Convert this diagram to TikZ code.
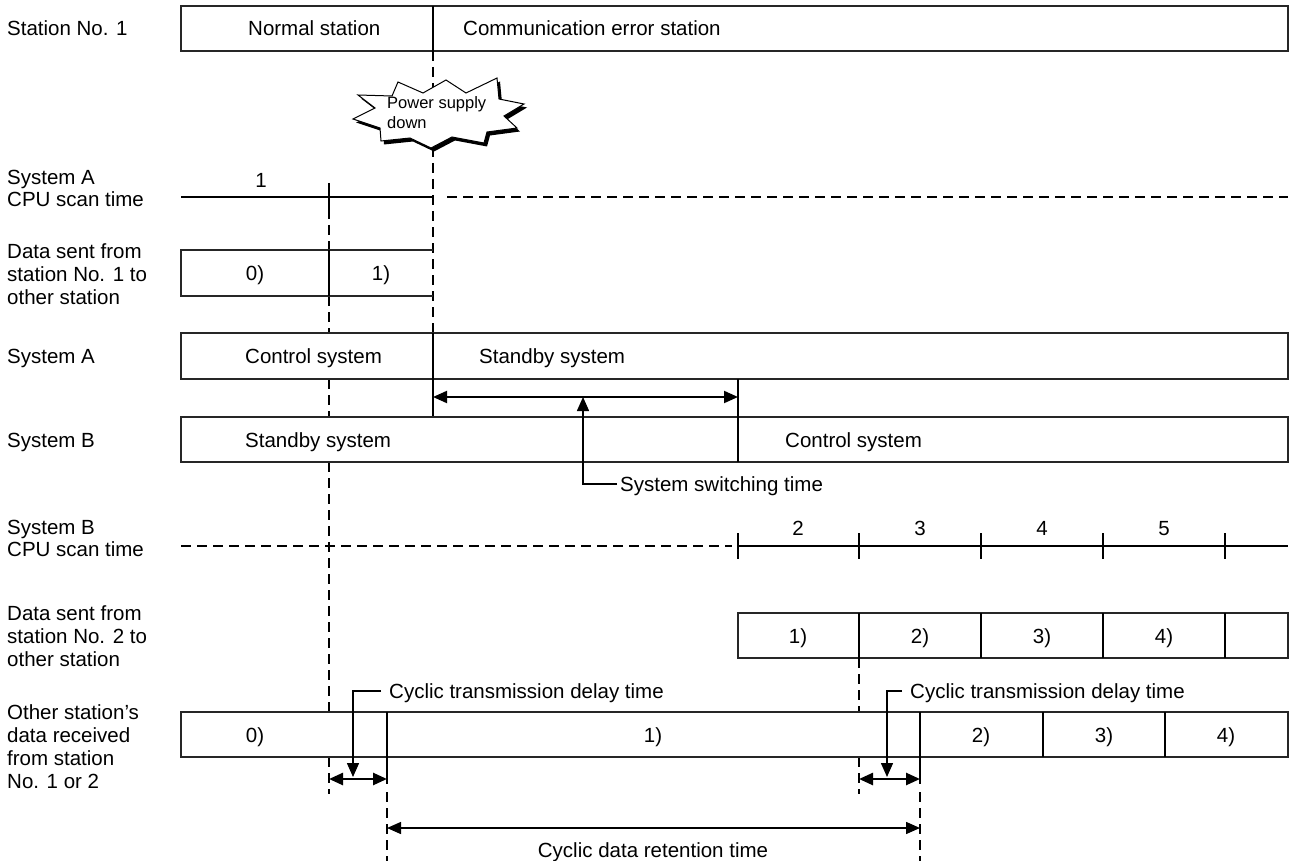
\documentclass[tikz,border=0pt]{standalone}
\usepackage{fontspec}
\setmainfont{Liberation Sans}
\usetikzlibrary{arrows.meta}
\begin{document}
\begin{tikzpicture}[x=1pt,y=-1pt,
  box/.style={line width=1.2pt, draw=black!85},
  divl/.style={line width=2pt},
  dsh/.style={line width=1.8pt, dash pattern=on 10pt off 6pt},
  txt/.style={inner sep=0pt, text height=15pt, text depth=0pt, font=\fontsize{20.5}{24}\selectfont},
  lbl/.style={txt, anchor=west},
  tri/.tip={Triangle[length=14pt,width=12pt]},
  dbl/.style={line width=2pt, tri-tri},
  lead/.style={line width=1.5pt, -tri}]
\useasboundingbox (0,0) rectangle (1290,861);

% ---------- left labels ----------
\node[lbl] (l1) at (7,28.5) {Station No. 1};
\node[lbl] (l2a) at (7,177) {System A};
\node[lbl] (l2b) at (7,199) {CPU scan time};
\node[lbl] (l3a) at (7,251) {Data sent from};
\node[lbl] (l3b) at (7,274) {station No. 1 to};
\node[lbl] (l3c) at (7,297) {other station};
\node[lbl] (l4) at (7,356) {System A};
\node[lbl] (l5) at (7,440) {System B};
\node[lbl] (l6a) at (7,527) {System B};
\node[lbl] (l6b) at (7,549) {CPU scan time};
\node[lbl] (l7a) at (7,613) {Data sent from};
\node[lbl] (l7b) at (7,636) {station No. 2 to};
\node[lbl] (l7c) at (7,659) {other station};
\node[lbl] (l8a) at (7,712) {Other station\char"27 s};
\node[lbl] (l8b) at (7,735) {data received};
\node[lbl] (l8c) at (7,758) {from station};
\node[lbl] (l8d) at (7,781) {No. 1 or 2};

% ---------- station No.1 ----------
\draw[box] (181,6) rectangle (1288,51);
\draw[divl] (433,6) -- (433,51);
\node[lbl] (ns) at (248,28.5) {Normal station};
\node[lbl] (ce) at (463,28.5) {Communication error station};

% dashed vertical at power-down
\draw[dsh] (433,51) -- (433,333);

% ---------- System A CPU scan ----------
\draw[line width=1.3pt] (181,197) -- (433,197);
\draw[divl] (329,183) -- (329,209);
\draw[dsh] (447,197) -- (1288,197);
\node[txt] (c1) at (261,180) {1};

% dashed vertical at x=329
\draw[dsh] (329,209) -- (329,250);
\draw[dsh] (329,296) -- (329,333);
\draw[dsh] (329,379) -- (329,417);
\draw[dsh] (329,462) -- (329,712);
\draw[dsh] (329,757) -- (329,794);

% ---------- data from station 1 ----------
\draw[box] (433,250) -- (181,250) -- (181,296) -- (433,296);
\draw[divl] (329,250) -- (329,296);
\node[txt] (d0) at (255,273) {0)};
\node[txt] (d1) at (381,273) {1)};

% ---------- System A ----------
\draw[box] (181,333) rectangle (1288,379);
\draw[divl] (433,333) -- (433,417);
\node[lbl] (ac) at (245,356) {Control system};
\node[lbl] (as) at (479,356) {Standby system};

% ---------- System B ----------
\draw[box] (181,417) rectangle (1288,462);
\draw[divl] (738,379) -- (738,462);
\node[lbl] (bs) at (245,440) {Standby system};
\node[lbl] (bc) at (785,440) {Control system};

% switching time
\coordinate (swL) at (433,397);
\coordinate (swR) at (738,397);
\coordinate (swM) at (583,397);
\draw[dbl] (swL) -- (swR);
\node[lbl] (sw) at (620,484) {System switching time};
\draw[lead] ([xshift=-3pt]sw.west) -| (swM);

% ---------- System B CPU scan ----------
\draw[dsh] (181,546) -- (732,546);
\draw[divl] (738,546) -- (1288,546);
\foreach \x in {738,859,981,1103,1225} \draw[divl] (\x,533) -- (\x,559);
\node[txt] (c2) at (798,528) {2};
\node[txt] (c3) at (920,528) {3};
\node[txt] (c4) at (1042,528) {4};
\node[txt] (c5) at (1164,528) {5};

% ---------- data from station 2 ----------
\draw[box] (738,613) rectangle (1288,658);
\foreach \x in {859,981,1103,1225} \draw[divl] (\x,613) -- (\x,658);
\node[txt] (e1) at (798,636) {1)};
\node[txt] (e2) at (920,636) {2)};
\node[txt] (e3) at (1042,636) {3)};
\node[txt] (e4) at (1164,636) {4)};
\draw[dsh] (859,658) -- (859,712);
\draw[dsh] (859,757) -- (859,794);

% ---------- other station's received data ----------
\draw[box] (181,712) rectangle (1288,757);
\draw[divl] (387,712) -- (387,784);
\draw[divl] (920,712) -- (920,784);
\draw[divl] (1043,712) -- (1043,757);
\draw[divl] (1165,712) -- (1165,757);
\draw[dsh] (387,792) -- (387,861);
\draw[dsh] (920,792) -- (920,861);
\node[txt] (r0) at (255,735) {0)};
\node[txt] (r1) at (653,735) {1)};
\node[txt] (r2) at (981,735) {2)};
\node[txt] (r3) at (1104,735) {3)};
\node[txt] (r4) at (1226,735) {4)};

% delay times
\coordinate (a1L) at (329,779);
\coordinate (a1R) at (387,779);
\coordinate (a2L) at (859,779);
\coordinate (a2R) at (920,779);
\draw[dbl, line width=2.5pt] (a1L) -- (a1R);
\draw[dbl, line width=2.5pt] (a2L) -- (a2R);
\node[lbl] (t1) at (389,691) {Cyclic transmission delay time};
\node[lbl] (t2) at (910,691) {Cyclic transmission delay time};
\coordinate (p1) at (353,777);
\coordinate (p2) at (887,777);
\draw[lead] ([xshift=-8pt]t1.west) -| (p1);
\draw[lead] ([xshift=-8pt]t2.west) -| (p2);

% retention time
\coordinate (rtL) at (387,828);
\coordinate (rtR) at (920,828);
\draw[line width=1.5pt, tri-tri] (rtL) -- (rtR);
\node[txt] (rt) at (653,850) {Cyclic data retention time};

% ---------- power supply down burst ----------
\def\burst{(353,119) -- (375,108) -- (358,95) -- (392,96) -- (398,82) -- (423,93) -- (446,80) -- (466,93) -- (497,78) -- (499,99) -- (524,104) -- (504,116) -- (517,128) -- (487,132) -- (484,143) -- (452,137) -- (431,148) -- (410,138) -- (381,141) -- (380,128) -- cycle}
\begin{scope}[shift={(3,3.5)}]
\fill[black] \burst;
\end{scope}
\draw[fill=white, line width=1pt] \burst;
\node[inner sep=0pt, anchor=west, font=\fontsize{16.5}{19}\selectfont, text height=12pt, text depth=0pt] (ps1) at (387,103) {Power supply};
\node[inner sep=0pt, anchor=west, font=\fontsize{16.5}{19}\selectfont, text height=12pt, text depth=0pt] (ps2) at (387,123) {down};
\end{tikzpicture}
\end{document}
